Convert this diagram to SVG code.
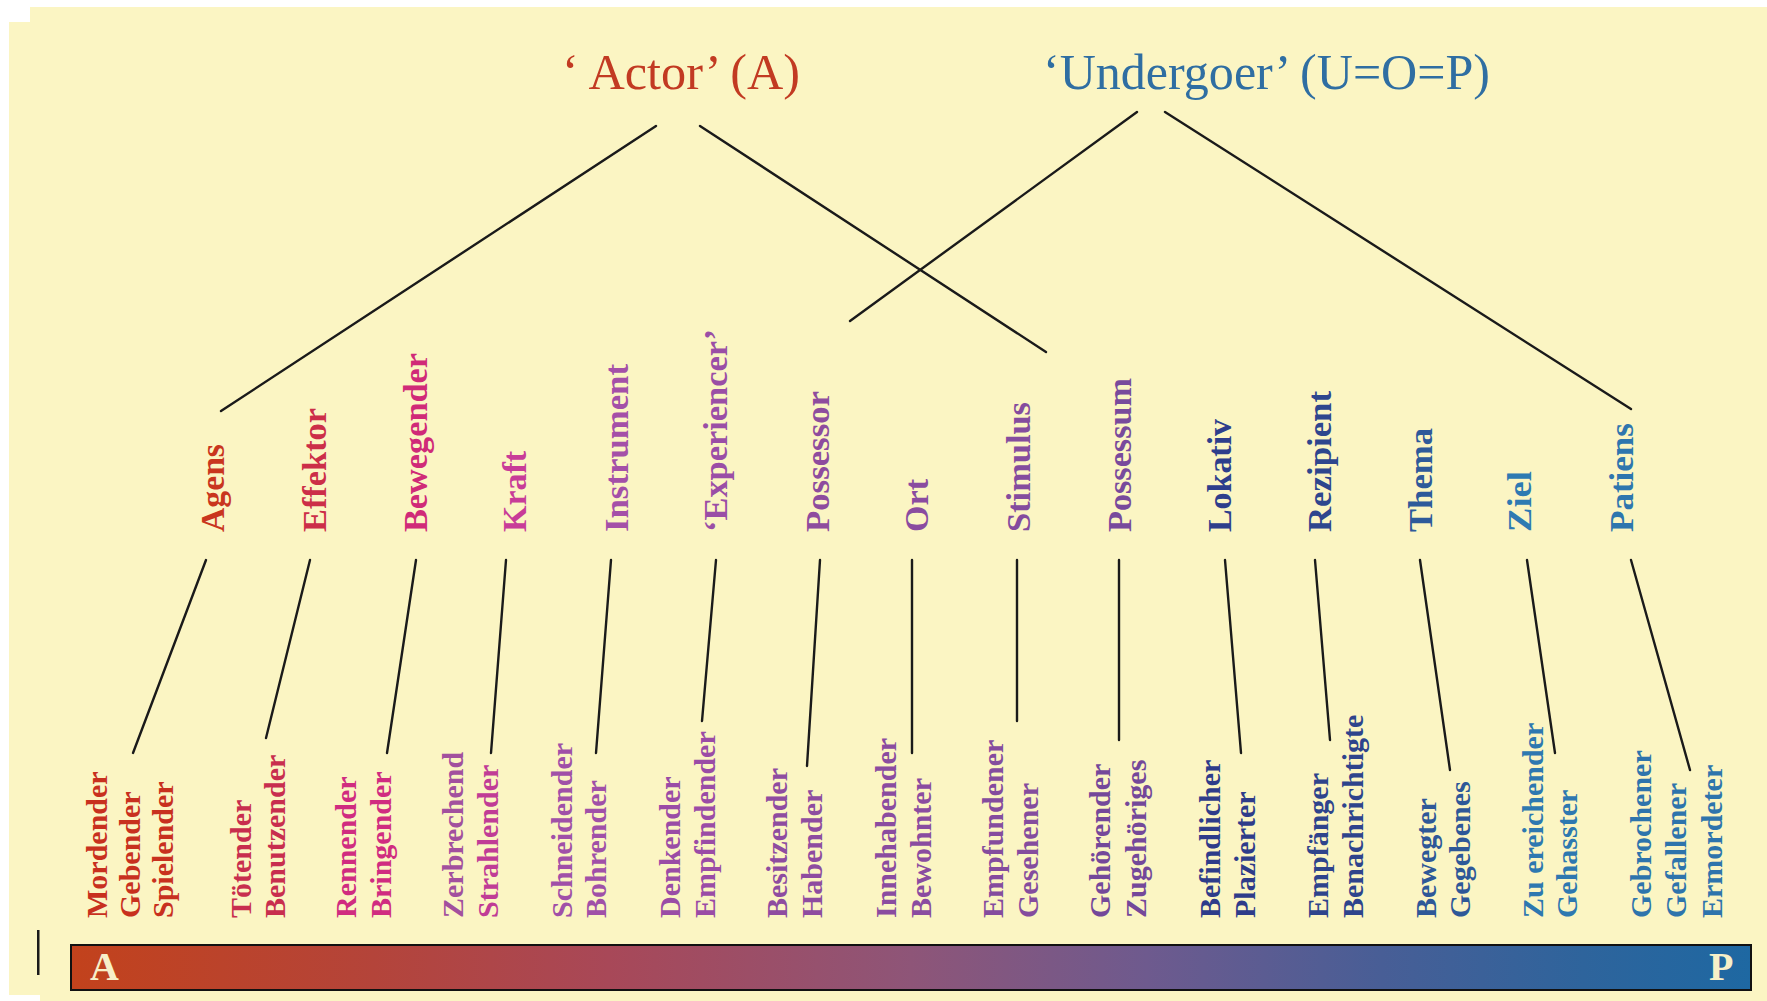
<svg xmlns="http://www.w3.org/2000/svg" width="1767" height="1001" viewBox="0 0 1767 1001">
<defs>
<linearGradient id="bar" x1="0" y1="0" x2="1" y2="0">
<stop offset="0" stop-color="#C2421C"/>
<stop offset="0.18" stop-color="#B4443A"/>
<stop offset="0.32" stop-color="#A84858"/>
<stop offset="0.5" stop-color="#8E5578"/>
<stop offset="0.64" stop-color="#6E5A8E"/>
<stop offset="0.78" stop-color="#485E96"/>
<stop offset="0.9" stop-color="#2E649C"/>
<stop offset="1" stop-color="#1E68A2"/>
</linearGradient>
<style>
.title{font-family:"Liberation Serif","Times New Roman",serif;font-size:50px}
.role{font-family:"Liberation Serif","Times New Roman",serif;font-size:33px;font-weight:bold}
.word{font-family:"Liberation Serif","Times New Roman",serif;font-size:30px;font-weight:bold}
.end{font-family:"Liberation Serif","Times New Roman",serif;font-size:40px;font-weight:bold;fill:#F7EFC8}
.ln{stroke:#1a1a1a;stroke-width:2.4;fill:none;stroke-linecap:round}
</style>
</defs>
<rect width="1767" height="1001" fill="#FFFFFF"/>
<path d="M30 7 H1767 V1001 H40 V995 H9 V22 H30 Z" fill="#FBF5C3"/>
<rect x="37" y="930" width="2.5" height="45" fill="#1a1a1a"/>

<g id="connectors">
<line class="ln" x1="656" y1="126" x2="221" y2="411"/>
<line class="ln" x1="700" y1="126" x2="1046" y2="352"/>
<line class="ln" x1="1137" y1="112" x2="850" y2="321"/>
<line class="ln" x1="1165" y1="112" x2="1631" y2="409"/>
<line class="ln" x1="206" y1="560" x2="133" y2="753"/>
<line class="ln" x1="310" y1="560" x2="266" y2="738"/>
<line class="ln" x1="416" y1="560" x2="387" y2="753"/>
<line class="ln" x1="506" y1="560" x2="491" y2="753"/>
<line class="ln" x1="611" y1="560" x2="596" y2="753"/>
<line class="ln" x1="716" y1="560" x2="702" y2="721"/>
<line class="ln" x1="820" y1="560" x2="807" y2="766"/>
<line class="ln" x1="912" y1="560" x2="912" y2="753"/>
<line class="ln" x1="1017" y1="560" x2="1017" y2="721"/>
<line class="ln" x1="1119" y1="560" x2="1119" y2="740"/>
<line class="ln" x1="1225" y1="560" x2="1241" y2="753"/>
<line class="ln" x1="1315" y1="560" x2="1330" y2="740"/>
<line class="ln" x1="1420" y1="560" x2="1450" y2="770"/>
<line class="ln" x1="1527" y1="560" x2="1555" y2="753"/>
<line class="ln" x1="1631" y1="560" x2="1690" y2="770"/>
</g>

<g id="actor"><text class="title" x="562" y="89" fill="#C23A22" textLength="238" lengthAdjust="spacingAndGlyphs">‘ Actor’ (A)</text></g>
<g id="undergoer"><text class="title" x="1043" y="89" fill="#2F6EA2" textLength="447" lengthAdjust="spacingAndGlyphs">‘Undergoer’ (U=O=P)</text></g>

<g id="agens"><text class="role" fill="#C9361E" transform="translate(224,532) rotate(-90)" textLength="88" lengthAdjust="spacingAndGlyphs">Agens</text>
<g class="word" fill="#C8301E"><text transform="translate(107,918) rotate(-90)">Mordender</text><text transform="translate(140,918) rotate(-90)">Gebender</text><text transform="translate(173,918) rotate(-90)">Spielender</text></g></g>

<g id="effektor"><text class="role" fill="#CC2E48" transform="translate(326,532) rotate(-90)" textLength="124" lengthAdjust="spacingAndGlyphs">Effektor</text>
<g class="word" fill="#C82E4E"><text transform="translate(251,918) rotate(-90)">Tötender</text><text transform="translate(285,918) rotate(-90)">Benutzender</text></g></g>

<g id="bewegender"><text class="role" fill="#D02A78" transform="translate(427,532) rotate(-90)" textLength="179" lengthAdjust="spacingAndGlyphs">Bewegender</text>
<g class="word" fill="#D02C80"><text transform="translate(356,918) rotate(-90)">Rennender</text><text transform="translate(391,918) rotate(-90)">Bringender</text></g></g>

<g id="kraft"><text class="role" fill="#C83C98" transform="translate(526,532) rotate(-90)" textLength="81" lengthAdjust="spacingAndGlyphs">Kraft</text>
<g class="word"><text fill="#A2509E" transform="translate(463,918) rotate(-90)">Zerbrechend</text><text fill="#C03C96" transform="translate(498,918) rotate(-90)">Strahlender</text></g></g>

<g id="instrument"><text class="role" fill="#A450A8" transform="translate(628,532) rotate(-90)" textLength="168" lengthAdjust="spacingAndGlyphs">Instrument</text>
<g class="word" fill="#A050A8"><text transform="translate(572,918) rotate(-90)">Schneidender</text><text transform="translate(606,918) rotate(-90)">Bohrender</text></g></g>

<g id="experiencer"><text class="role" fill="#9A4EA6" transform="translate(727,532) rotate(-90)" textLength="203" lengthAdjust="spacingAndGlyphs">‘Experiencer’</text>
<g class="word" fill="#9A4CA6"><text transform="translate(680,918) rotate(-90)">Denkender</text><text transform="translate(715,918) rotate(-90)">Empfindender</text></g></g>

<g id="possessor"><text class="role" fill="#8E4C9E" transform="translate(829,532) rotate(-90)" textLength="141" lengthAdjust="spacingAndGlyphs">Possessor</text>
<g class="word" fill="#8E4CA0"><text transform="translate(787,918) rotate(-90)">Besitzender</text><text transform="translate(822,918) rotate(-90)">Habender</text></g></g>

<g id="ort"><text class="role" fill="#8A4CA0" transform="translate(928,532) rotate(-90)" textLength="53" lengthAdjust="spacingAndGlyphs">Ort</text>
<g class="word" fill="#8A4CA0"><text transform="translate(896,918) rotate(-90)">Innehabender</text><text transform="translate(931,918) rotate(-90)">Bewohnter</text></g></g>

<g id="stimulus"><text class="role" fill="#844C9E" transform="translate(1030,532) rotate(-90)" textLength="130" lengthAdjust="spacingAndGlyphs">Stimulus</text>
<g class="word" fill="#844C9E"><text transform="translate(1003,918) rotate(-90)">Empfundener</text><text transform="translate(1038,918) rotate(-90)">Gesehener</text></g></g>

<g id="possessum"><text class="role" fill="#784A9C" transform="translate(1131,532) rotate(-90)" textLength="154" lengthAdjust="spacingAndGlyphs">Possessum</text>
<g class="word" fill="#74489A"><text transform="translate(1110,918) rotate(-90)">Gehörender</text><text transform="translate(1146,918) rotate(-90)">Zugehöriges</text></g></g>

<g id="lokativ"><text class="role" fill="#2E3E8C" transform="translate(1231,532) rotate(-90)" textLength="113" lengthAdjust="spacingAndGlyphs">Lokativ</text>
<g class="word" fill="#2E3C8A"><text transform="translate(1220,918) rotate(-90)">Befindlicher</text><text transform="translate(1255,918) rotate(-90)">Plazierter</text></g></g>

<g id="rezipient"><text class="role" fill="#2E468E" transform="translate(1331,532) rotate(-90)" textLength="141" lengthAdjust="spacingAndGlyphs">Rezipient</text>
<g class="word" fill="#2E448C"><text transform="translate(1328,918) rotate(-90)">Empfänger</text><text transform="translate(1363,918) rotate(-90)">Benachrichtigte</text></g></g>

<g id="thema"><text class="role" fill="#2E5A9A" transform="translate(1432,532) rotate(-90)" textLength="104" lengthAdjust="spacingAndGlyphs">Thema</text>
<g class="word" fill="#2E5898"><text transform="translate(1436,918) rotate(-90)">Bewegter</text><text transform="translate(1470,918) rotate(-90)">Gegebenes</text></g></g>

<g id="ziel"><text class="role" fill="#2E7AB2" transform="translate(1531,532) rotate(-90)" textLength="61" lengthAdjust="spacingAndGlyphs">Ziel</text>
<g class="word" fill="#2E78B0"><text transform="translate(1543,918) rotate(-90)">Zu ereichender</text><text transform="translate(1577,918) rotate(-90)">Gehasster</text></g></g>

<g id="patiens"><text class="role" fill="#2E76AE" transform="translate(1633,532) rotate(-90)" textLength="109" lengthAdjust="spacingAndGlyphs">Patiens</text>
<g class="word" fill="#2E74AC"><text transform="translate(1651,918) rotate(-90)">Gebrochener</text><text transform="translate(1686,918) rotate(-90)">Gefallener</text><text transform="translate(1722,918) rotate(-90)">Ermordeter</text></g></g>

<g id="scale">
<rect x="71" y="945" width="1680" height="45" fill="url(#bar)" stroke="#111" stroke-width="2"/>
<text class="end" x="90" y="980">A</text>
<text class="end" x="1709" y="980">P</text>
</g>
</svg>
